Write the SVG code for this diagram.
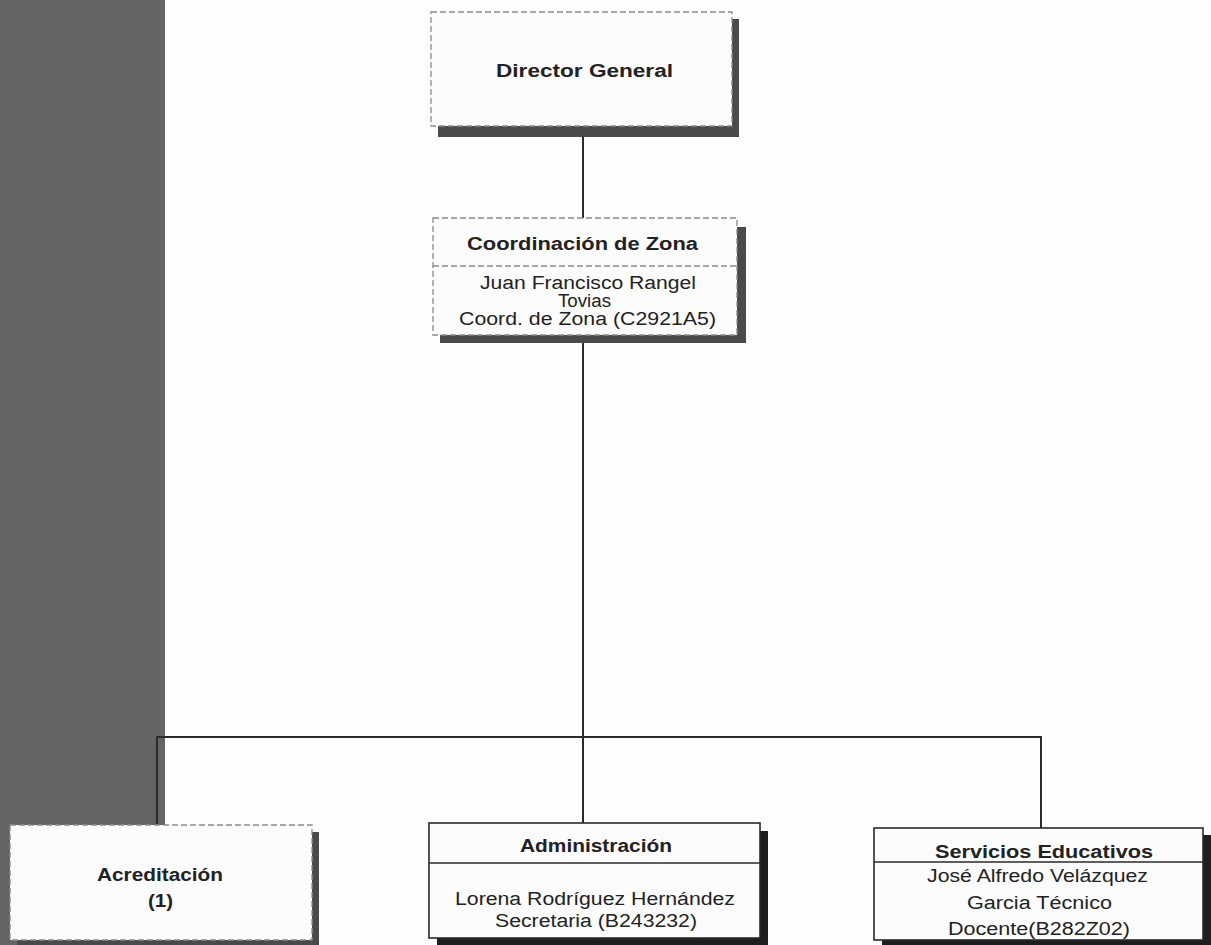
<svg xmlns="http://www.w3.org/2000/svg" width="1211" height="945" viewBox="0 0 1211 945">
<style>
.bg{fill:#fdfdfd}
.bar{fill:#646464}
.dash{fill:#fcfcfc;stroke:#8a8a8a;stroke-width:1.3;stroke-dasharray:6 3}
.solid{fill:#fcfcfc;stroke:#2a2a2a;stroke-width:1.6}
.shd{fill:#4a4a4a}
.shdk{fill:#1e1e1e}
.sep{stroke:#2a2a2a;stroke-width:1.6}
.sepd{stroke:#8a8a8a;stroke-width:1.3;stroke-dasharray:6 3}
.conn{stroke:#2b2b2b;stroke-width:2;fill:none}
text{font-family:"Liberation Sans",Arial,sans-serif;fill:#222;text-anchor:middle}
.b{font-weight:bold;font-size:18px}
.r{font-size:18px}
</style>
<rect class="bg" x="0" y="0" width="1211" height="945"/>
<rect class="bar" x="0" y="0" width="165" height="945"/>
<g id="connectors">
<line class="conn" x1="583" y1="136" x2="583" y2="218"/>
<line class="conn" x1="583" y1="343" x2="583" y2="823"/>
<polyline class="conn" points="157,825 157,737 1041,737 1041,828"/>
</g>
<g id="director">
<rect class="shd" x="438" y="19" width="301" height="118"/>
<rect class="dash" x="431" y="12" width="301" height="114"/>
<text class="b" x="584.5" y="77" textLength="177" lengthAdjust="spacingAndGlyphs">Director General</text>
</g>
<g id="coordinacion">
<rect class="shd" x="440" y="227" width="306" height="116"/>
<rect class="dash" x="433" y="218" width="304" height="117"/>
<line class="sepd" x1="433" y1="266" x2="737" y2="266"/>
<text class="b" x="582.5" y="250" textLength="231" lengthAdjust="spacingAndGlyphs">Coordinación de Zona</text>
<text class="r" x="588" y="289" textLength="216" lengthAdjust="spacingAndGlyphs">Juan Francisco Rangel</text>
<text class="r" x="584.5" y="307" textLength="53" lengthAdjust="spacingAndGlyphs">Tovias</text>
<text class="r" x="587.5" y="325" textLength="257" lengthAdjust="spacingAndGlyphs">Coord. de Zona (C2921A5)</text>
</g>
<g id="acreditacion">
<rect class="shd" x="17" y="832" width="302" height="113"/>
<rect class="dash" x="10" y="825" width="302" height="115"/>
<text class="b" x="160" y="881" textLength="126" lengthAdjust="spacingAndGlyphs">Acreditación</text>
<text class="b" x="160.5" y="907" textLength="25" lengthAdjust="spacingAndGlyphs">(1)</text>
</g>
<g id="administracion">
<rect class="shdk" x="437" y="831" width="331" height="114"/>
<rect class="solid" x="429" y="823" width="331" height="115"/>
<line class="sep" x1="429" y1="863" x2="760" y2="863"/>
<text class="b" x="596" y="852" textLength="152" lengthAdjust="spacingAndGlyphs">Administración</text>
<text class="r" x="595" y="905" textLength="280" lengthAdjust="spacingAndGlyphs">Lorena Rodríguez Hernández</text>
<text class="r" x="596" y="927" textLength="202" lengthAdjust="spacingAndGlyphs">Secretaria (B243232)</text>
</g>
<g id="servicios">
<rect class="shdk" x="882" y="835" width="329" height="110"/>
<rect class="solid" x="874" y="828" width="329" height="112"/>
<line class="sep" x1="874" y1="862" x2="1203" y2="862"/>
<text class="b" x="1044" y="858" textLength="218" lengthAdjust="spacingAndGlyphs">Servicios Educativos</text>
<text class="r" x="1037.5" y="882" textLength="221" lengthAdjust="spacingAndGlyphs">José Alfredo Velázquez</text>
<text class="r" x="1039.5" y="909" textLength="145" lengthAdjust="spacingAndGlyphs">Garcia Técnico</text>
<text class="r" x="1039" y="935" textLength="182" lengthAdjust="spacingAndGlyphs">Docente(B282Z02)</text>
</g>
</svg>
